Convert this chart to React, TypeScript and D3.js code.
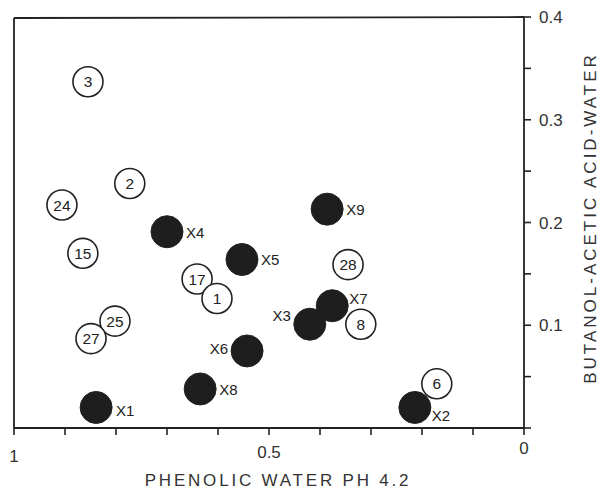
import React from "react";
import * as d3 from "d3";

// open circles: reference compounds
const refNames = ["3", "2", "24", "15", "17", "1", "25", "27", "28", "8", "6"];
const refPhenol = [0.855, 0.773, 0.906, 0.865, 0.641, 0.602, 0.802, 0.849, 0.345, 0.32, 0.171];
const refButanol = [0.337, 0.238, 0.217, 0.17, 0.145, 0.126, 0.104, 0.087, 0.159, 0.101, 0.043];

// filled circles: unknowns
const unkNames = ["X1", "X2", "X3", "X4", "X5", "X6", "X7", "X8", "X9"];
const unkPhenol = [0.839, 0.214, 0.42, 0.7, 0.553, 0.543, 0.376, 0.635, 0.386];
const unkButanol = [0.02, 0.02, 0.101, 0.191, 0.164, 0.075, 0.119, 0.038, 0.213];

const xTickLabels = ["1", "0.5", "0"];
const yTickLabels = ["0", "0.1", "0.2", "0.3", "0.4"];

// where the X labels sit relative to their dot
const labelOffset: Record<string, [number, number, string]> = {
  X1: [20, 9, "start"],
  X2: [17, 14, "start"],
  X3: [-19, -3, "end"],
  X4: [19, 6, "start"],
  X5: [19, 6, "start"],
  X6: [-19, 3, "end"],
  X7: [17, -2, "start"],
  X8: [19, 6, "start"],
  X9: [19, 6, "start"],
};

export default function App() {
  const width = 601;
  const height = 496;
  const font = "'Liberation Sans', Arial, sans-serif";
  const ink = "#222";

  const x = d3.scaleLinear().domain([1, 0]).range([14, 524]);
  const y = d3.scaleLinear().domain([0, 0.4]).range([428, 17]);

  const xTicks = d3.range(0, 11).map((i) => i / 10);
  const yTicks = d3.range(0, 9).map((i) => i * 0.05);

  return (
    <svg
      width={width}
      height={height}
      style={{ position: "absolute", left: 0, top: 0, background: "#fff" }}
    >
      {/* frame: left, top, bottom axis, right axis */}
      <g stroke={ink} strokeWidth={1.8} fill="none">
        <line x1={x(1)} x2={x(1)} y1={y(0.4) + 1} y2={y(0)} />
        <line x1={x(1)} x2={x(0)} y1={y(0.4) + 1} y2={y(0.4)} />
        <line x1={x(1)} x2={x(0)} y1={y(0)} y2={y(0)} />
        <line x1={x(0)} x2={x(0)} y1={y(0.4)} y2={y(0)} />
      </g>

      {/* x ticks */}
      <g stroke={ink} strokeWidth={1.6}>
        {xTicks.map((t) => (
          <line key={t} x1={x(t)} x2={x(t)} y1={y(0)} y2={y(0) + 7} />
        ))}
      </g>
      {xTickLabels.map((l) => (
        <text
          key={l}
          x={x(+l)}
          y={y(0) + 34 - (1 - +l) * 8}
          textAnchor="middle"
          fontFamily={font}
          fontSize={17}
          fill="#333"
        >
          {l}
        </text>
      ))}

      {/* y ticks */}
      <g stroke={ink} strokeWidth={1.6}>
        {yTicks.map((t) => (
          <line key={t} x1={x(0)} x2={x(0) + 7} y1={y(t)} y2={y(t)} />
        ))}
      </g>
      {yTickLabels
        .filter((l) => l !== "0")
        .map((l) => (
          <text
            key={l}
            x={x(0) + 15}
            y={y(+l) + 6}
            fontFamily={font}
            fontSize={17}
            fill="#333"
          >
            {l}
          </text>
        ))}

      {/* axis titles */}
      <text
        x={278}
        y={486}
        textAnchor="middle"
        fontFamily={font}
        fontSize={17}
        letterSpacing={2.8}
        fill="#333"
      >
        PHENOLIC WATER PH 4.2
      </text>
      <text
        transform={`translate(596, 218) rotate(-90)`}
        textAnchor="middle"
        fontFamily={font}
        fontSize={17}
        letterSpacing={3}
        fill="#333"
      >
        BUTANOL-ACETIC ACID-WATER
      </text>

      {/* reference compounds */}
      {refNames.map((n, i) => (
        <g key={n} transform={`translate(${x(refPhenol[i])},${y(refButanol[i])})`}>
          <circle r={15} fill="#fff" stroke={ink} strokeWidth={1.6} />
          <text
            y={5.5}
            textAnchor="middle"
            fontFamily={font}
            fontSize={15.5}
            fill="#222"
          >
            {n}
          </text>
        </g>
      ))}

      {/* unknowns */}
      {unkNames.map((n, i) => {
        const [dx, dy, anchor] = labelOffset[n];
        return (
          <g key={n} transform={`translate(${x(unkPhenol[i])},${y(unkButanol[i])})`}>
            <circle r={16} fill="#1e1e1e" stroke={ink} strokeWidth={1} />
            <text
              x={dx}
              y={dy}
              textAnchor={anchor}
              fontFamily={font}
              fontSize={15}
              fill="#222"
            >
              {n}
            </text>
          </g>
        );
      })}
    </svg>
  );
}
